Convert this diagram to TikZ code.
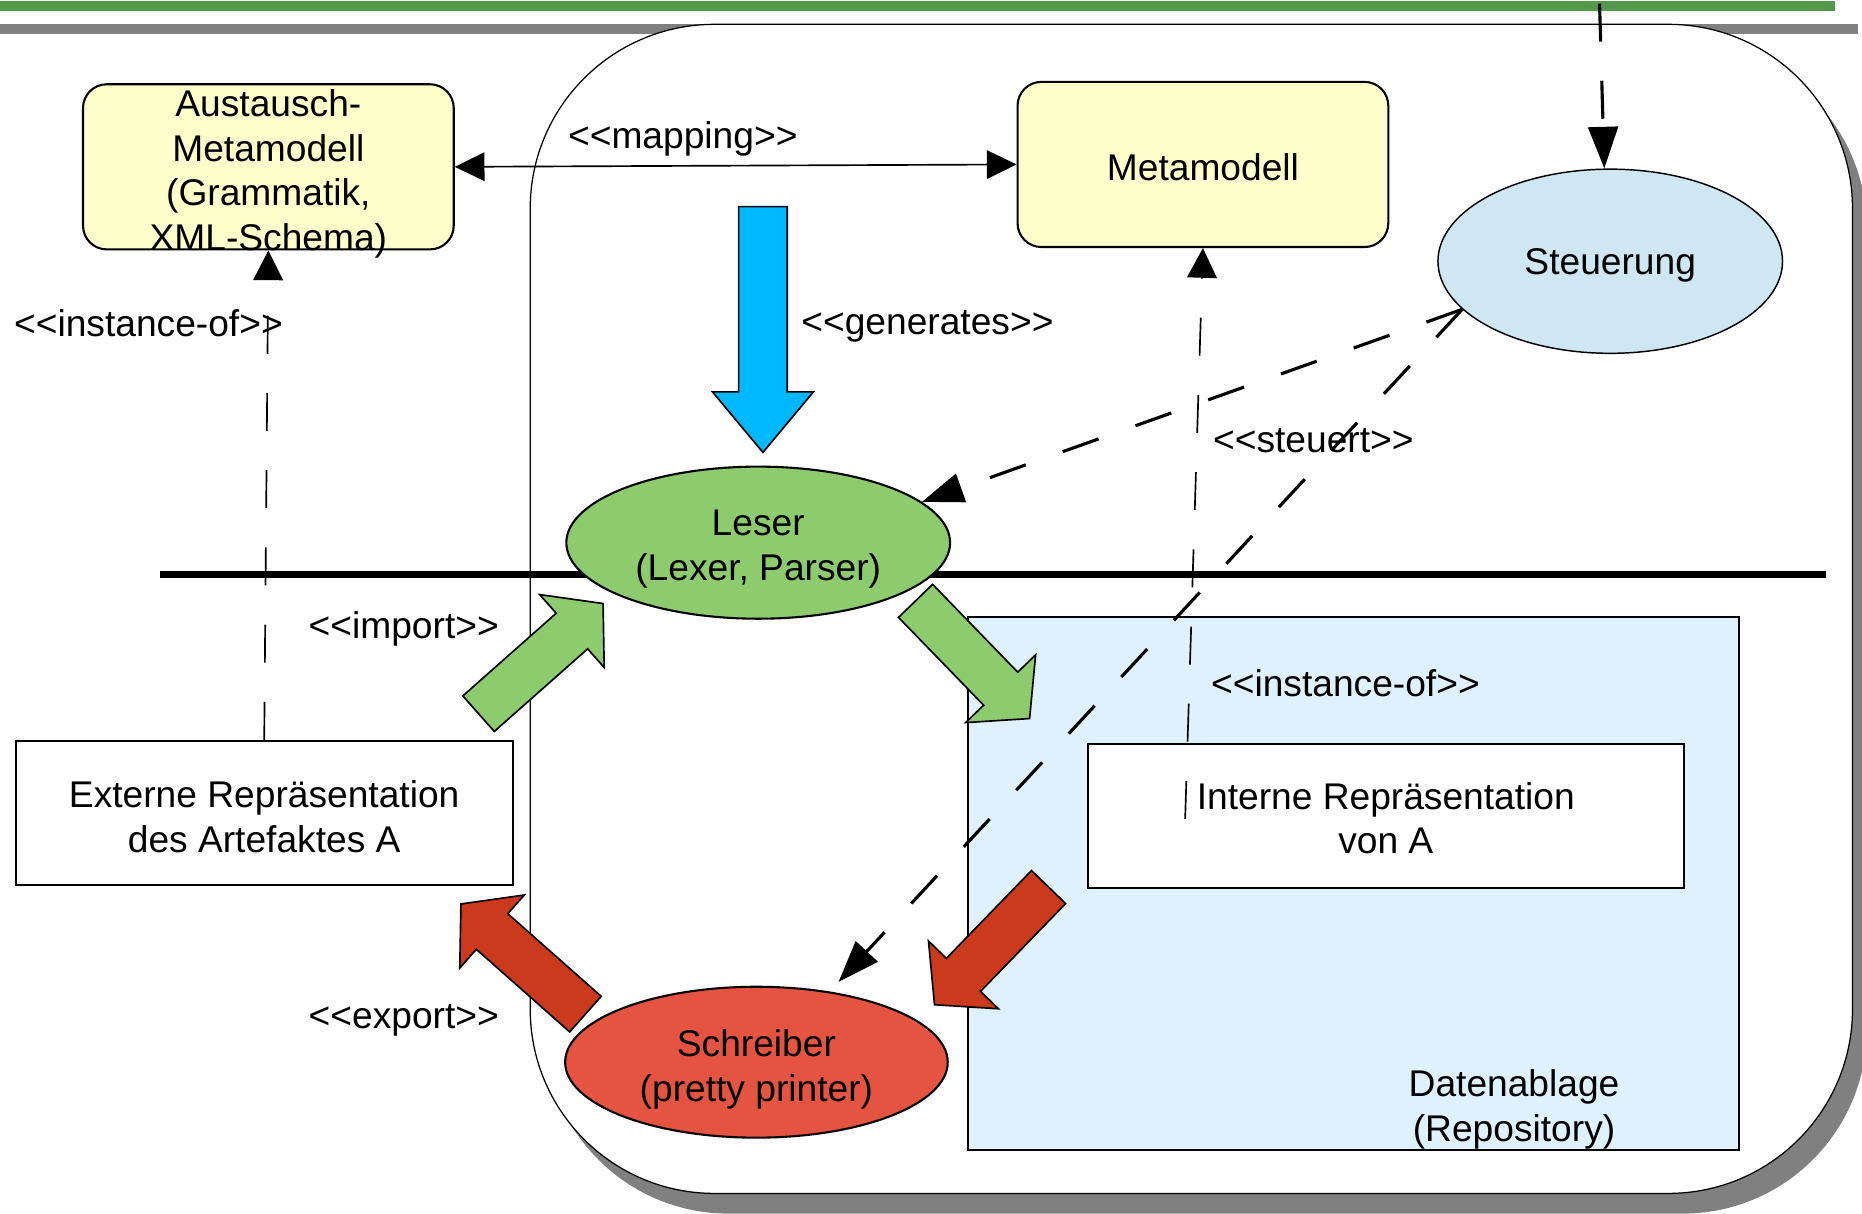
\documentclass[tikz,border=0pt]{standalone}
\usepackage{fontspec}
\setmainfont{Liberation Sans}
\usetikzlibrary{arrows.meta,shapes.geometric}

\definecolor{headgreen}{RGB}{84,152,76}
\definecolor{headgray}{RGB}{128,128,128}
\definecolor{metayellow}{RGB}{255,255,204}
\definecolor{ctrlblue}{RGB}{207,231,243}
\definecolor{repoblue}{RGB}{223,240,254}
\definecolor{readgreen}{RGB}{141,203,110}
\definecolor{writered}{RGB}{229,84,64}
\definecolor{arrowred}{RGB}{204,58,30}
\definecolor{genblue}{RGB}{0,184,255}

% stereotype label, braces keep << and >> from turning into guillemets
\newcommand{\stereo}[1]{<{}<#1>{}>}
% strut on the first line to set the text a little lower in its shape
\newcommand{\lift}[1][9.2pt]{\rule{0pt}{#1}}

% block arrow: style, tail, angle, length, shaft half width, head half width, head length
\newcommand{\fatarrow}[7]{%
  \draw[#1,shift={#2},rotate=#3] (0,-#5) -- ({#4-#7},-#5) -- ({#4-#7},-#6) -- (#4,0)
    -- ({#4-#7},#6) -- ({#4-#7},#5) -- (0,#5) -- cycle;}

\begin{document}
\begin{tikzpicture}[x=0.01cm,y=-0.01cm,
    font=\fontsize{8.9}{10.7}\selectfont,
    metabox/.style={draw,line width=0.5pt,fill=metayellow,rounded corners=0.2cm,
      minimum width=3.12cm,minimum height=1.39cm,inner sep=0pt},
    artbox/.style={draw,line width=0.5pt,fill=white,minimum height=1.21cm,inner sep=0pt,align=center},
    tool/.style={ellipse,draw,line width=0.5pt,minimum width=3.23cm,minimum height=1.28cm,
      inner sep=0pt,align=center},
    fat/.style={draw,line width=0.4pt},
    instof/.style={line width=0.4pt,dash pattern=on 0.32cm off 0.33cm,
      -{Triangle[length=0.25cm,width=0.25cm]}},
    ctrl/.style={line width=0.75pt,dash pattern=on 0.32cm off 0.33cm,
      -{Triangle[length=0.35cm,width=0.25cm]}}]
  \useasboundingbox (0,0) rectangle (1568,1022);
  \clip (0,0) rectangle (1568,1022);

  % header bars
  \fill[headgreen] (0,1) rectangle (1545,9);
  \fill[headgray] (0,20.5) rectangle (1565,29);

  % frame with shadow
  \fill[headgray,rounded corners=1.55cm] (458.5,37.5) rectangle (1572,1022);
  \draw[line width=0.3pt,fill=white,rounded corners=1.55cm] (446.5,20.5) rectangle (1560,1005);

  % repository
  \node[draw,line width=0.5pt,fill=repoblue,minimum width=6.49cm,minimum height=4.48cm,
    inner sep=0pt] (repo) at (1139.5,744) {};
  \node[align=center] (repo-label) at (1275,934) {Datenablage\\(Repository)};

  % separator
  \draw[line width=1.8pt] (135,484) -- (1538,484);

  % nodes
  \node[metabox] (aus) at (226,140.5) {};
  \node[align=center] (aus-text) at (226,146.5) {Austausch-\\Metamodell\\(Grammatik,\\XML-Schema)};
  \node[metabox] (meta) at (1013,138.5) {\lift[7.6pt]Metamodell};
  \node[tool,fill=ctrlblue,line width=0.35pt,minimum width=2.9cm,minimum height=1.55cm]
    (steuer) at (1356,220) {\lift[8.3pt]Steuerung};
  \node[tool,fill=readgreen] (leser) at (638.5,457) {\lift Leser\\(Lexer, Parser)};
  \node[tool,fill=writered,minimum width=3.22cm,minimum height=1.27cm]
    (schreib) at (637,894.5) {\lift[9.8pt]Schreiber\\(pretty printer)};
  \node[artbox,minimum width=4.18cm] (extern) at (222.5,684.5)
    {\lift[8.2pt]Externe Repräsentation\\des Artefaktes A};
  \node[artbox,minimum width=5.02cm] (intern) at (1167,687)
    {\lift[7.6pt]Interne Repräsentation\\von A};

  % block arrows
  \fatarrow{fat,fill=genblue}{(642.5,174)}{-90}{207}{20.5}{42.5}{51}
  \fatarrow{fat,fill=readgreen}{(403,601)}{41.5}{140}{20}{41}{35}
  \fatarrow{fat,fill=readgreen}{(771,506)}{-45.9}{138}{20}{41}{35}
  \fatarrow{fat,fill=arrowred}{(493,854)}{138.5}{140}{20}{41}{35}
  \fatarrow{fat,fill=arrowred}{(883,747)}{-134.1}{138}{20}{41}{35}

  % connectors
  \draw[line width=0.4pt,{Triangle[length=0.25cm,width=0.24cm]}-{Triangle[length=0.25cm,width=0.24cm]}]
    (aus.east) -- (meta.west);
  \draw[instof] (extern.north) -- (aus.south);
  \draw[instof] ([xshift=0.83cm,yshift=-0.64cm]intern.north west) -- (meta.south);
  \coordinate (ctrl-in) at (1347,3);
  \draw[ctrl] (ctrl-in) -- ([xshift=-0.05cm]steuer.north);
  \draw[ctrl] (steuer.198) -- (leser.14);
  \draw[ctrl,shorten >=0.11cm] (steuer.198) -- (schreib.44);

  % labels
  \node (lbl-map) at (575,117) {\stereo{mapping}};
  \node (lbl-gen) at (781,275) {\stereo{generates}};
  \node (lbl-inst1) at (125,272) {\stereo{instance-of}};
  \node (lbl-ctrl) at (1106,371) {\stereo{steuert}};
  \node (lbl-imp) at (340,530) {\stereo{import}};
  \node (lbl-inst2) at (1133,575) {\stereo{instance-of}};
  \node (lbl-exp) at (340,859) {\stereo{export}};
\end{tikzpicture}
\end{document}
